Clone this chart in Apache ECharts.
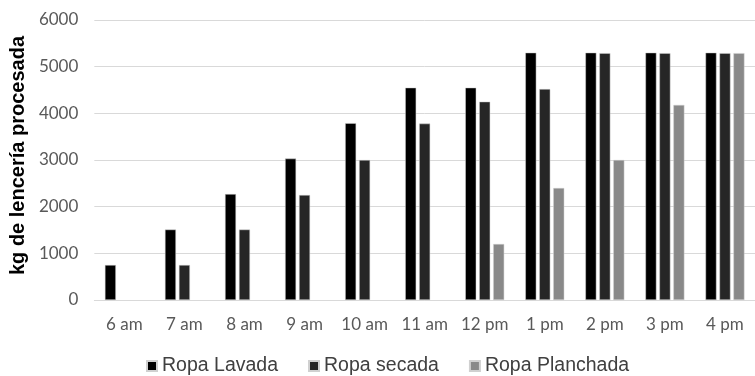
<!DOCTYPE html>
<html><head><meta charset="utf-8">
<script src="https://cdn.jsdelivr.net/npm/echarts@6/dist/echarts.min.js"></script>
<style>html,body{margin:0;padding:0;background:#fff}#c{width:755px;height:376px}</style>
</head><body><div id="c"></div>
<script>
const categories = ['6 am','7 am','8 am','9 am','10 am','11 am','12 pm','1 pm','2 pm','3 pm','4 pm'];
const lavada = [750, 1510, 2270, 3030, 3790, 4550, 4550, 5300, 5300, 5300, 5300];
const secada = [null, 750, 1510, 2250, 3000, 3780, 4250, 4520, 5290, 5290, 5290];
const planchada = [null, null, null, null, null, null, 1200, 2400, 3000, 4180, 5290];
const seriesNames = ['Ropa Lavada', 'Ropa secada', 'Ropa Planchada'];
const colors = ['#000000', '#262626', '#898989'];

const chart = echarts.init(document.getElementById('c'));
const mk = (name, data, color) => ({
  name, type: 'bar', data, barWidth: 11, barGap: '27%',
  itemStyle: { color, borderColor: '#d0d0d0', borderWidth: 0.5 }
});
chart.setOption({
  animation: false,
  grid: { left: 91.5, right: -9.6, top: 20, bottom: 76, containLabel: false },
  legend: {
    data: seriesNames, left: 146, top: 356, padding: 0,
    itemWidth: 10, itemHeight: 10, itemGap: 30, icon: 'rect',
    textStyle: { fontFamily: 'Liberation Sans', fontSize: 19.5, color: '#404040' }
  },
  xAxis: {
    type: 'category', data: categories,
    axisLine: { show: true, lineStyle: { color: '#d9d9d9' } },
    axisTick: { show: false },
    axisLabel: { fontFamily: 'Lato', fontSize: 17, color: '#595959', margin: 16, interval: 0 }
  },
  yAxis: {
    type: 'value', min: 0, max: 6000, interval: 1000,
    name: 'kg de lencería procesada', nameLocation: 'middle', nameRotate: 90, nameGap: 60,
    nameTextStyle: { fontFamily: 'Liberation Sans', fontWeight: 'bold', fontSize: 20, color: '#000', padding: [0, 0, 0, 9] },
    axisLine: { show: false }, axisTick: { show: false },
    splitLine: { lineStyle: { color: '#d9d9d9', width: 1 } },
    axisLabel: { fontFamily: 'Lato', fontSize: 17, color: '#595959', margin: 16, formatter: v => String(v) }
  },
  series: [mk(seriesNames[0], lavada, colors[0]), mk(seriesNames[1], secada, colors[1]), mk(seriesNames[2], planchada, colors[2])]
});
</script></body></html>
